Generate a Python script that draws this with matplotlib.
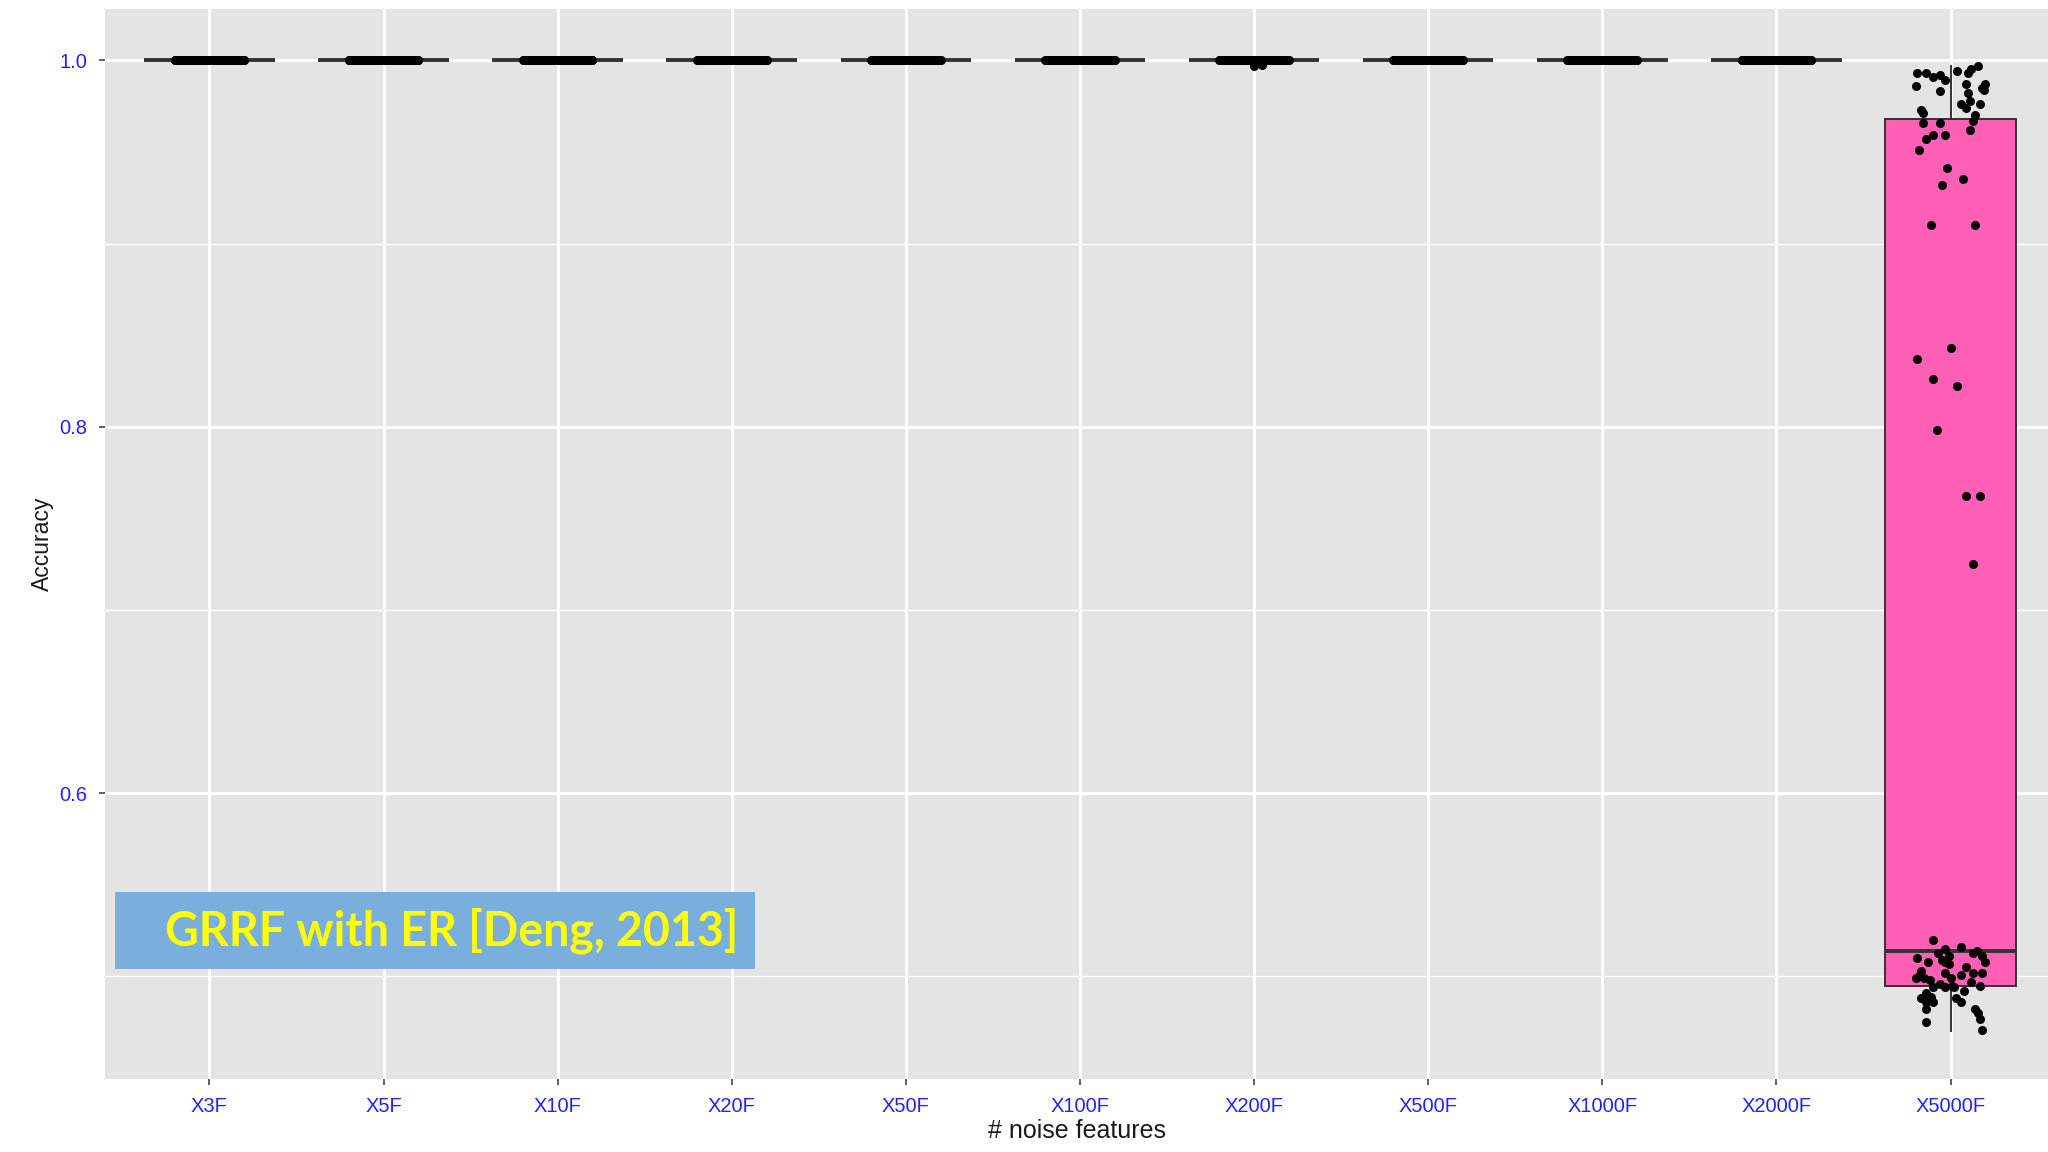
import numpy as np
import matplotlib
matplotlib.use('Agg')
import matplotlib.pyplot as plt
from matplotlib.patches import Rectangle

# categories and box colours (ggplot hue palette, 11 groups)
groups = ['X3F', 'X5F', 'X10F', 'X20F', 'X50F', 'X100F', 'X200F',
          'X500F', 'X1000F', 'X2000F', 'X5000F']
box_cols = ['#F8766D', '#DB8E00', '#AEA200', '#64B200', '#00BD5C', '#00C1A7',
            '#00BADE', '#00A6FF', '#B385FF', '#EF67EB', '#FF5FB4']

n_runs = 100
# accuracy per run; every run reaches 1.0 up to 2000 noise features
acc_perfect = [1.0] * n_runs
acc_x200f = [1.0] * 50 + [0.997] + [1.0] * 10 + [0.9975] + [1.0] * 38

# X5000F runs
acc_x5000f = [0.993, 0.993, 0.992, 0.989, 0.986, 0.983, 0.994, 0.993, 0.997, 0.987,
              0.987, 0.985, 0.982, 0.978, 0.976, 0.974, 0.976, 0.973, 0.971, 0.966,
              0.966, 0.970, 0.967, 0.962, 0.959, 0.959, 0.957, 0.951, 0.941, 0.935,
              0.932, 0.910, 0.910, 0.995, 0.991, 0.984,
              0.843, 0.837, 0.826, 0.822, 0.798, 0.762, 0.762, 0.725,
              0.520, 0.515, 0.513, 0.516, 0.514, 0.513, 0.511, 0.508, 0.510, 0.508,
              0.511, 0.508, 0.507, 0.503, 0.500, 0.499, 0.499, 0.502, 0.499, 0.501,
              0.502, 0.502, 0.497, 0.495, 0.496, 0.494, 0.494, 0.495, 0.494, 0.491,
              0.489, 0.488, 0.486, 0.486, 0.488, 0.486, 0.482, 0.482, 0.480, 0.477,
              0.475, 0.471, 0.505, 0.498, 0.492, 0.509]
jit_x5000f = [-0.19, -0.14, -0.06, -0.03, -0.20, -0.06, 0.04, 0.10, 0.16, 0.09,
              0.20, 0.18, 0.10, 0.11, 0.06, 0.09, 0.17, -0.17, -0.16, -0.16,
              -0.06, 0.14, 0.13, 0.11, -0.10, -0.03, -0.14, -0.18, -0.02, 0.07,
              -0.05, -0.11, 0.14, 0.12, -0.10, 0.19,
              0.00, -0.19, -0.10, 0.04, -0.08, 0.09, 0.17, 0.13,
              -0.10, -0.03, -0.07, 0.06, 0.15, 0.13, 0.18, 0.20, -0.19, -0.13,
              -0.01, -0.03, -0.01, -0.17, -0.18, -0.20, -0.15, -0.03, 0.00, 0.06,
              0.13, 0.18, 0.12, 0.17, -0.06, -0.10, -0.03, 0.01, 0.02, -0.14,
              -0.11, -0.17, -0.14, -0.10, 0.03, 0.06, -0.14, 0.14, 0.16, 0.17,
              -0.14, 0.18, 0.09, -0.12, 0.08, -0.05]

# box statistics of X5000F as drawn
x5000_q1, x5000_med, x5000_q3 = 0.495, 0.514, 0.968
x5000_lo, x5000_hi = 0.470, 0.997

all_acc = [acc_perfect] * 6 + [acc_x200f] + [acc_perfect] * 3 + [acc_x5000f]

fig = plt.figure(figsize=(20.48, 11.52), dpi=100, facecolor='white')
ax = fig.add_axes([105 / 2048, 1 - 1079 / 1152, 1 - 105 / 2048, 1070 / 1152])
ax.set_facecolor('#E5E4E5')

stats = []
for i, acc in enumerate(all_acc):
    if i == len(all_acc) - 1:
        stats.append(dict(med=x5000_med, q1=x5000_q1, q3=x5000_q3,
                          whislo=x5000_lo, whishi=x5000_hi, fliers=[]))
    else:
        m = float(np.median(acc))
        stats.append(dict(med=m, q1=m, q3=m, whislo=m, whishi=m, fliers=[]))

pos = np.arange(1, len(groups) + 1)
bp = ax.bxp(stats, positions=pos, widths=0.75, patch_artist=True, showcaps=False,
            boxprops=dict(edgecolor='#333333', linewidth=1.4),
            medianprops=dict(color='#333333', linewidth=2.8),
            whiskerprops=dict(color='#333333', linewidth=1.4), zorder=3)
for patch, c in zip(bp['boxes'], box_cols):
    patch.set_facecolor(c)

# jittered points
for i, acc in enumerate(all_acc):
    if i == len(all_acc) - 1:
        xs = pos[i] + np.array(jit_x5000f)
    else:
        xs = pos[i] + np.linspace(-0.2, 0.2, len(acc))
    ax.scatter(xs, acc, s=42, color='black', linewidths=0, zorder=4)

ax.set_xlim(0.4, 11.56)
ax.set_ylim(0.444, 1.028)
ax.set_xticks(pos)
ax.set_xticklabels(groups)
ax.set_yticks([0.6, 0.8, 1.0])
ax.set_yticklabels(['0.6', '0.8', '1.0'])
ax.set_yticks([0.5, 0.7, 0.9], minor=True)
ax.grid(which='major', color='white', linewidth=2.0, zorder=0)
ax.grid(which='minor', axis='y', color='white', linewidth=1.0, zorder=0)
ax.set_axisbelow(True)
for s in ax.spines.values():
    s.set_visible(False)
ax.tick_params(which='major', length=4, width=1.2, color='#444444',
               labelcolor='#2222ff', labelsize=14.5, pad=9)
ax.tick_params(which='minor', length=0)
for lab in ax.get_xticklabels() + ax.get_yticklabels():
    lab.set_family('Liberation Sans')

ax.set_xlabel('# noise features', fontsize=18, family='Liberation Sans', color='#1a1a1a')
ax.set_ylabel('Accuracy', fontsize=16.5, family='Liberation Sans', color='#1a1a1a')
ax.xaxis.set_label_coords(0.5, -0.0486)
ax.xaxis.label.set_va('center')
ax.yaxis.set_label_coords(-0.032, 0.5)
ax.yaxis.label.set_va('center')

# annotation banner
fig.patches.append(Rectangle((115 / 2048, 1 - 969 / 1152), 640 / 2048, 77 / 1152,
                             transform=fig.transFigure, facecolor='#79AEDD',
                             edgecolor='none', zorder=5))
fig.text(738 / 2048, 1 - 931 / 1152, 'GRRF with ER [Deng, 2013]', ha='right', va='center',
         fontsize=33.5, fontweight='bold', family='Lato', color='#FFFF00', zorder=6)

fig.savefig('out.png', dpi=100, facecolor='white')
